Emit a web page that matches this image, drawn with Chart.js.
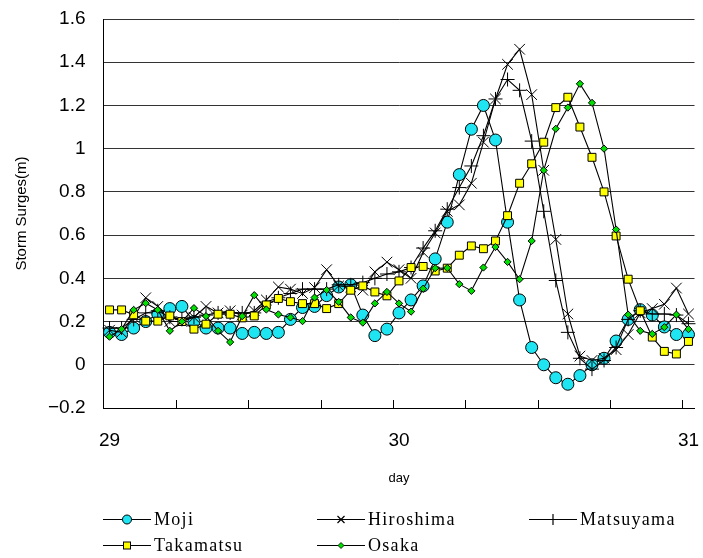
<!DOCTYPE html>
<html><head><meta charset="utf-8">
<script src="https://cdn.jsdelivr.net/npm/chart.js@4.4.1/dist/chart.umd.min.js"></script>
<style>
html,body{margin:0;padding:0;background:#fff;}
#wrap{position:relative;width:703px;height:558px;overflow:hidden;}
#c{position:absolute;left:0;top:0;}
.leg{position:absolute;height:20px;display:flex;align-items:center;font-family:'Liberation Serif','Times New Roman',serif;font-size:18px;letter-spacing:1.3px;color:#000;white-space:nowrap;}
.leg svg{display:block;margin-right:3px;}
</style></head><body>
<div id="wrap"><canvas id="c" width="703" height="558"></canvas><div id="legend"></div></div>
<script>
// hourly categories from day 29 00h to day 31 00h
const categories = ['29 00','29 01','29 02','29 03','29 04','29 05','29 06','29 07','29 08','29 09','29 10','29 11','29 12','29 13','29 14','29 15','29 16','29 17','29 18','29 19','29 20','29 21','29 22','29 23',
 '30 00','30 01','30 02','30 03','30 04','30 05','30 06','30 07','30 08','30 09','30 10','30 11','30 12','30 13','30 14','30 15','30 16','30 17','30 18','30 19','30 20','30 21','30 22','30 23','31 00'];
const xTickLabels = ['29','30','31'];

const moji = [0.15,0.14,0.17,0.20,0.235,0.26,0.27,0.20,0.17,0.17,0.17,0.145,0.15,0.145,0.15,0.21,0.265,0.27,0.32,0.36,0.37,0.23,0.135,0.165,
 0.24,0.30,0.365,0.49,0.66,0.88,1.09,1.20,1.04,0.66,0.30,0.08,0.0,-0.06,-0.09,-0.05,0.0,0.03,0.11,0.21,0.255,0.23,0.175,0.14,0.14];
const hiroshima = [0.16,0.15,0.22,0.31,0.27,0.20,0.20,0.22,0.27,0.24,0.25,0.23,0.25,0.30,0.36,0.35,0.33,0.357,0.44,0.365,0.36,0.345,0.43,0.475,
 0.44,0.40,0.52,0.61,0.71,0.74,0.84,1.03,1.23,1.39,1.46,1.25,0.90,0.58,0.235,0.04,0.02,0.03,0.07,0.14,0.24,0.26,0.28,0.355,0.235];
const matsuyama = [0.17,0.17,0.21,0.24,0.25,0.22,0.21,0.22,0.23,0.24,0.24,0.24,0.24,0.29,0.31,0.33,0.35,0.35,0.35,0.37,0.37,0.38,0.40,0.42,
 0.43,0.45,0.54,0.62,0.72,0.82,0.92,1.06,1.23,1.32,1.27,1.035,0.71,0.39,0.15,0.03,-0.02,0.02,0.08,0.21,0.25,0.235,0.235,0.23,0.19];
const takamatsu = [0.254,0.254,0.231,0.202,0.202,0.226,0.20,0.165,0.188,0.234,0.234,0.217,0.226,0.277,0.307,0.292,0.283,0.283,0.26,0.283,0.345,0.365,0.337,0.319,
 0.388,0.45,0.455,0.434,0.447,0.507,0.55,0.537,0.573,0.69,0.84,0.93,1.03,1.19,1.238,1.10,0.96,0.80,0.596,0.396,0.25,0.128,0.062,0.05,0.108];
const osaka = [0.13,0.165,0.254,0.285,0.254,0.157,0.20,0.262,0.225,0.157,0.105,0.225,0.322,0.256,0.233,0.219,0.202,0.311,0.346,0.291,0.219,0.195,0.284,0.337,
 0.284,0.246,0.352,0.447,0.448,0.373,0.342,0.45,0.545,0.476,0.396,0.573,0.90,1.092,1.19,1.30,1.212,1.0,0.626,0.232,0.157,0.143,0.174,0.232,0.165];

const seriesNames = ['Moji','Hiroshima','Matsuyama','Takamatsu','Osaka'];
const seriesValues = [moji, hiroshima, matsuyama, takamatsu, osaka];

const styles = [
  {pointStyle:'circle', radius:6, bg:'#1FE5F2', order:5},
  {pointStyle:'crossRot', radius:7.5, bg:'#000', order:4},
  {pointStyle:'cross', radius:7, bg:'#000', order:3},
  {pointStyle:'rect', radius:5.6, bg:'#FFFF00', order:2},
  {pointStyle:'rectRot', radius:3.6, bg:'#00E000', order:1}
];

const datasets = seriesNames.map((name, i) => ({
  label: name,
  data: seriesValues[i],
  borderColor: '#000',
  borderWidth: 1.1,
  pointStyle: styles[i].pointStyle,
  pointRadius: styles[i].radius,
  pointHoverRadius: styles[i].radius,
  pointBackgroundColor: styles[i].bg,
  pointBorderColor: '#000',
  pointBorderWidth: 1,
  tension: 0,
  fill: false,
  order: styles[i].order,
  clip: 10
}));

const innerTicks = {
  id: 'innerTicks',
  beforeDatasetsDraw(chart) {
    const xs = chart.scales.x, ctx = chart.ctx, b = chart.chartArea.bottom;
    const half = (xs.getPixelForValue(1) - xs.getPixelForValue(0)) / 2;
    ctx.save();
    ctx.strokeStyle = '#000'; ctx.lineWidth = 1;
    for (let i = 6; i < categories.length; i += 6) {
      const x = Math.round(xs.getPixelForValue(i) - half) + 0.5;
      ctx.beginPath(); ctx.moveTo(x, b); ctx.lineTo(x, b - 8); ctx.stroke();
    }
    ctx.restore();
  }
};

const sans = 'Liberation Sans, Arial, sans-serif';
new Chart(document.getElementById('c'), {
  type: 'line',
  data: { labels: categories, datasets },
  plugins: [innerTicks],
  options: {
    responsive: false,
    animation: false,
    events: [],
    layout: { padding: { top: 19, right: 5, bottom: 0, left: 0 } },
    plugins: { legend: { display: false }, tooltip: { enabled: false } },
    scales: {
      x: {
        type: 'category',
        offset: true,
        grid: { display: true, drawOnChartArea: false, drawTicks: false },
        border: { display: true, color: '#000', width: 1 },
        ticks: {
          autoSkip: false, maxRotation: 0, minRotation: 0, padding: 21,
          color: '#000', font: { family: sans, size: 19 },
          callback: (v, i) => (i % 24 === 0 ? xTickLabels[i / 24] : '')
        },
        title: { display: true, text: 'day', color: '#000', font: { family: sans, size: 13 }, padding: { top: 0, bottom: 72 } },
        afterFit: s => { s.height = 150; s.paddingLeft = 0; s.paddingRight = 0; }
      },
      y: {
        min: -0.2, max: 1.6,
        grid: { color: '#333', lineWidth: 1, drawTicks: false },
        border: { display: true, color: '#000', width: 1 },
        ticks: {
          stepSize: 0.2, padding: 18, color: '#000', font: { family: sans, size: 19 },
          callback: v => String(Math.round(v * 10) / 10).replace('-', '\u2212')
        },
        title: { display: true, text: 'Storm Surges(m)', color: '#000', font: { family: sans, size: 15 }, padding: { top: 13, bottom: 0 } },
        afterFit: s => { s.width = 103.5; s.paddingTop = 0; s.paddingBottom = 0; }
      }
    }
  }
});

// legend (HTML, real text)
const legPos = [[103,509],[317,509],[529,509],[103,535],[317,535]];
const legMarker = [
  '<circle cx="24" cy="8.5" r="4.5" fill="#1FE5F2" stroke="#000" stroke-width="1"/>',
  '<path d="M20.5 5 L27.5 12 M27.5 5 L20.5 12" stroke="#000" stroke-width="1.2"/>',
  '<path d="M24 3 L24 14" stroke="#000" stroke-width="1.2"/>',
  '<rect x="20.5" y="5" width="7" height="7" fill="#FFFF00" stroke="#000" stroke-width="1"/>',
  '<path d="M24 5.5 L27 8.5 L24 11.5 L21 8.5 Z" fill="#00E000" stroke="#000" stroke-width="0.8"/>'
];
const lg = document.getElementById('legend');
seriesNames.forEach((n, i) => {
  const d = document.createElement('div');
  d.className = 'leg';
  d.style.left = legPos[i][0] + 'px';
  d.style.top = legPos[i][1] + 'px';
  d.innerHTML = '<svg width="48" height="17" viewBox="0 0 48 17"><path d="M0 8.5 L48 8.5" stroke="#000" stroke-width="1.2"/>' + legMarker[i] + '</svg><span>' + n + '</span>';
  lg.appendChild(d);
});
</script>
</body></html>
